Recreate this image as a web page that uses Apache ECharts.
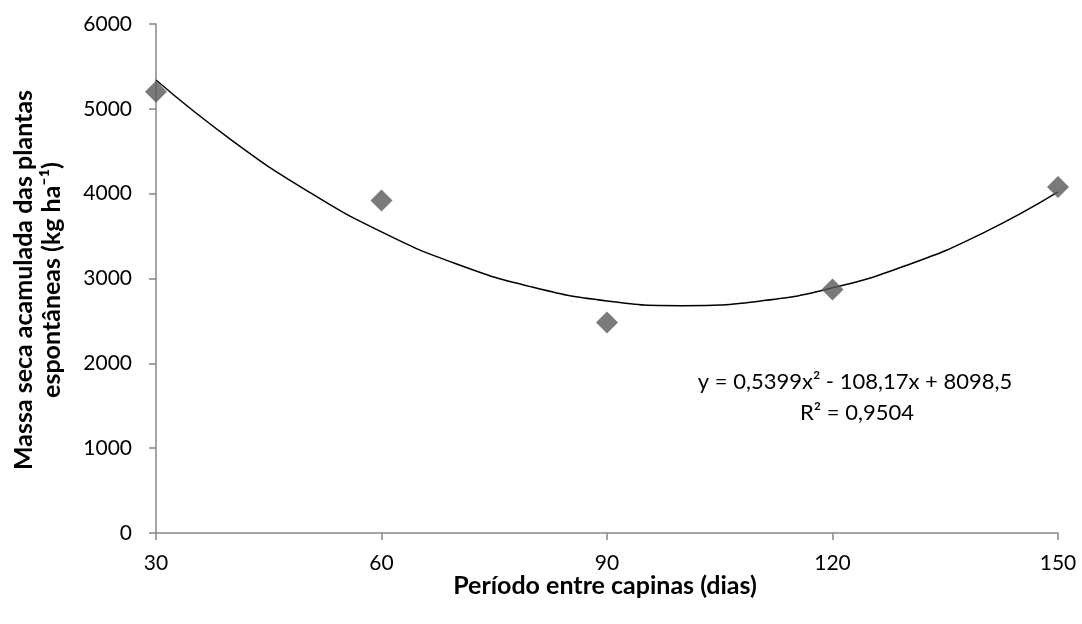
<!DOCTYPE html>
<html>
<head>
<meta charset="utf-8">
<script src="https://cdn.jsdelivr.net/npm/echarts@6.0.0/dist/echarts.min.js"></script>
<style>
  html, body { margin: 0; padding: 0; background: #fff; }
  #chart { width: 1082px; height: 624px; }
</style>
</head>
<body>
<div id="chart"></div>
<script>
// 观测值
const periodos = [30, 60, 90, 120, 150];
const massaSeca = [5200, 3920, 2480, 2870, 4080];

// 趋势线（从图上读出的点）
const trendX = [30, 40, 50, 60, 70, 80, 90, 100, 110, 120, 130, 140, 150];
const trendY = [5340, 4635, 4040, 3550, 3170, 2900, 2735, 2680, 2730, 2890, 3160, 3535, 4020];

const xTicks = [30, 60, 90, 120, 150];
const yTicks = [0, 1000, 2000, 3000, 4000, 5000, 6000];

const equacao = 'y = 0,5399x² - 108,17x + 8098,5';
const r2 = 'R² = 0,9504';

const chart = echarts.init(document.getElementById('chart'));
const fontFamily = 'Lato, "Open Sans", sans-serif';
const axisColor = '#868686';

const option = {
    backgroundColor: '#ffffff',
    animation: false,
    grid: { left: 156, right: 24, top: 24, bottom: 91 },
    xAxis: {
        type: 'value',
        min: xTicks[0],
        max: xTicks[xTicks.length - 1],
        interval: 30,
        axisLine: { lineStyle: { color: axisColor, width: 1.5 } },
        axisTick: { show: true, length: 7, lineStyle: { color: axisColor, width: 1.5 } },
        axisLabel: { color: '#000', fontSize: 21, fontFamily: fontFamily, margin: 20, formatter: v => String(v) },
        splitLine: { show: false }
    },
    yAxis: {
        type: 'value',
        min: yTicks[0],
        max: yTicks[yTicks.length - 1],
        interval: 1000,
        axisLine: { show: true, lineStyle: { color: axisColor, width: 1.5 } },
        axisTick: { show: true, length: 7, lineStyle: { color: axisColor, width: 1.5 } },
        axisLabel: { color: '#000', fontSize: 21, fontFamily: fontFamily, margin: 24, formatter: v => String(v) },
        splitLine: { show: false }
    },
    graphic: [
        {
            type: 'text',
            x: 605,
            y: 586,
            style: {
                text: 'Período entre capinas (dias)',
                font: 'bold 25px ' + fontFamily,
                fill: '#000',
                textAlign: 'center',
                textVerticalAlign: 'middle'
            }
        },
        {
            type: 'text',
            x: 38,
            y: 280,
            rotation: Math.PI / 2,
            style: {
                text: 'Massa seca acamulada das plantas\nespontâneas (kg ha⁻¹)',
                font: 'bold 25px ' + fontFamily,
                lineHeight: 28,
                fill: '#000',
                textAlign: 'center',
                textVerticalAlign: 'middle'
            }
        },
        {
            type: 'text',
            x: 855,
            y: 382,
            style: {
                text: equacao,
                font: '22px ' + fontFamily,
                fill: '#000',
                textAlign: 'center',
                textVerticalAlign: 'middle'
            }
        },
        {
            type: 'text',
            x: 857,
            y: 413,
            style: {
                text: r2,
                font: '22px ' + fontFamily,
                fill: '#000',
                textAlign: 'center',
                textVerticalAlign: 'middle'
            }
        }
    ],
    series: [
        {
            name: 'Tendência',
            type: 'line',
            smooth: true,
            showSymbol: false,
            lineStyle: { color: '#000', width: 1.5 },
            data: trendX.map((x, i) => [x, trendY[i]]),
            z: 2
        },
        {
            name: 'Massa seca',
            type: 'scatter',
            symbol: 'diamond',
            symbolSize: [22, 22],
            itemStyle: { color: '#595959' },
            data: periodos.map((x, i) => [x, massaSeca[i]]),
            z: 3
        }
    ]
};

chart.setOption(option);
</script>
</body>
</html>
